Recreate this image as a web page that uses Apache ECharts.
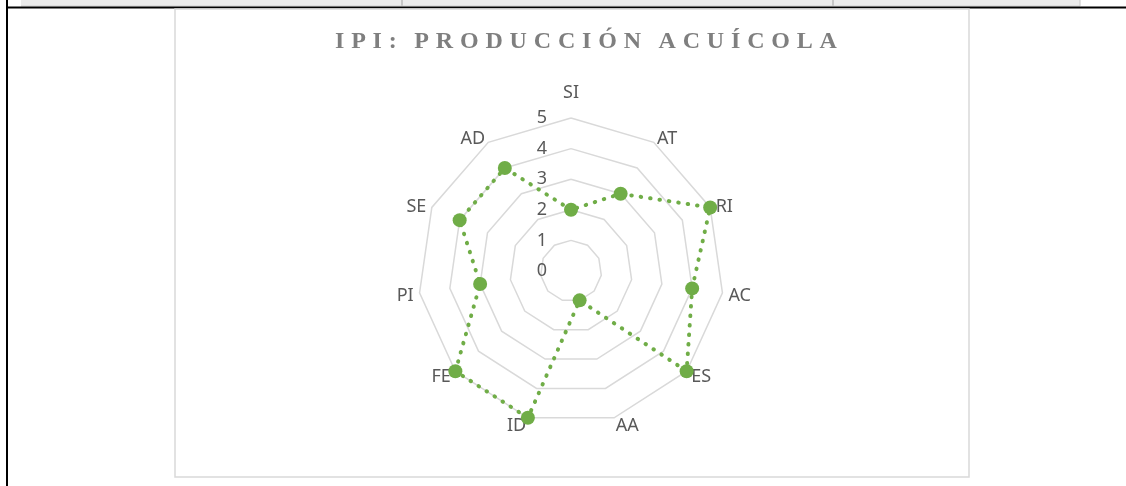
<!DOCTYPE html>
<html>
<head>
<meta charset="utf-8">
<script src="https://cdn.jsdelivr.net/npm/echarts@6/dist/echarts.min.js"></script>
<style>
  html, body { margin: 0; padding: 0; background: #fff; }
  #radarIpi { width: 1126px; height: 486px; }
</style>
</head>
<body>
<div id="radarIpi"></div>
<script>
// IPI: produccion acuicola - valores por indicador (sentido horario desde arriba)
var indicadores = ['SI', 'AT', 'RI', 'AC', 'ES', 'AA', 'ID', 'FE', 'PI', 'SE', 'AD'];
var valores = [2, 3, 5, 4, 5, 1, 5, 5, 3, 4, 4];
var escalaMin = 0;
var escalaMax = 5;

var gris = '#595959';
var verde = '#70ad47';

// el radar de echarts va antihorario: primero igual, el resto al reves
function horario(arr) {
    return [arr[0]].concat(arr.slice(1).reverse());
}

// letras separadas como en el titulo de excel
function espaciar(txt) {
    var sep = '\u2009\u200a';
    return txt.split(' ').map(function (w) {
        return w.split('').join(sep);
    }).join(sep + ' \u2009');
}

var myChart = echarts.init(document.getElementById('radarIpi'));
myChart.setOption({
    animation: false,
    title: {
        text: espaciar('IPI: PRODUCCIÓN ACUÍCOLA'),
        left: 330,
        top: 25,
        textStyle: {
            fontFamily: 'Liberation Serif',
            fontWeight: 'bold',
            fontSize: 24,
            color: '#7f7f7f'
        }
    },
    graphic: [
        // barra de la hoja de calculo
        { type: 'rect', shape: { x: 21, y: 0, width: 1059, height: 6 }, style: { fill: '#ebebeb' }, silent: true },
        { type: 'line', shape: { x1: 402, y1: 0, x2: 402, y2: 6 }, style: { stroke: '#c6c6c6', lineWidth: 2 }, silent: true },
        { type: 'line', shape: { x1: 833, y1: 0, x2: 833, y2: 6 }, style: { stroke: '#c6c6c6', lineWidth: 2 }, silent: true },
        { type: 'line', shape: { x1: 1080, y1: 0, x2: 1080, y2: 6 }, style: { stroke: '#c6c6c6', lineWidth: 1 }, silent: true },
        { type: 'line', shape: { x1: 21, y1: 6, x2: 1080, y2: 6 }, style: { stroke: '#d0d0d0', lineWidth: 1 }, silent: true },
        { type: 'line', shape: { x1: 7, y1: 0, x2: 7, y2: 486 }, style: { stroke: '#000', lineWidth: 2 }, silent: true },
        { type: 'line', shape: { x1: 7, y1: 7.5, x2: 1126, y2: 7.5 }, style: { stroke: '#000', lineWidth: 2 }, silent: true },
        // marco del grafico
        { type: 'rect', shape: { x: 175, y: 9, width: 794, height: 468 }, style: { fill: 'none', stroke: '#d9d9d9', lineWidth: 1.5 }, silent: true }
    ],
    radar: {
        center: [571, 271],
        radius: 153,
        startAngle: 90,
        splitNumber: 5,
        shape: 'polygon',
        indicator: horario(indicadores).map(function (n) {
            return { name: n, min: escalaMin, max: escalaMax };
        }),
        axisName: {
            color: gris,
            fontFamily: 'Noto Sans',
            fontSize: 18,
            padding: [4, 0, 0, 0],
            formatter: function (n) {
                // SI va un poco mas arriba en el original
                return n === 'SI' ? '{arriba|' + n + '}' : n;
            },
            rich: {
                arriba: {
                    color: gris,
                    fontFamily: 'Noto Sans',
                    fontSize: 18,
                    padding: [0, 0, 10, 0]
                }
            }
        },
        nameGap: 6,
        axisLine: { show: false },
        axisTick: { show: false },
        axisLabel: { show: false },
        splitArea: { show: false },
        splitLine: {
            lineStyle: { color: '#d9d9d9', width: 1.5 }
        }
    },
    // solo para las etiquetas 0-5 del eje vertical
    polar: {
        center: [571, 271],
        radius: 153
    },
    angleAxis: {
        type: 'value',
        startAngle: 90,
        show: false
    },
    radiusAxis: {
        type: 'value',
        min: escalaMin,
        max: escalaMax,
        interval: 1,
        axisLine: { show: false },
        axisTick: { show: false },
        splitLine: { show: false },
        axisLabel: {
            color: gris,
            fontFamily: 'Noto Sans',
            fontSize: 18,
            margin: 24,
            padding: [5, 0, 0, 0]
        }
    },
    series: [
        {
            name: 'IPI',
            type: 'radar',
            symbol: 'circle',
            symbolSize: 14,
            itemStyle: { color: verde },
            lineStyle: {
                color: verde,
                width: 4,
                type: [0.5, 9],
                cap: 'round'
            },
            data: [
                { value: horario(valores), name: 'Producción acuícola' }
            ]
        }
    ]
});
</script>
</body>
</html>
